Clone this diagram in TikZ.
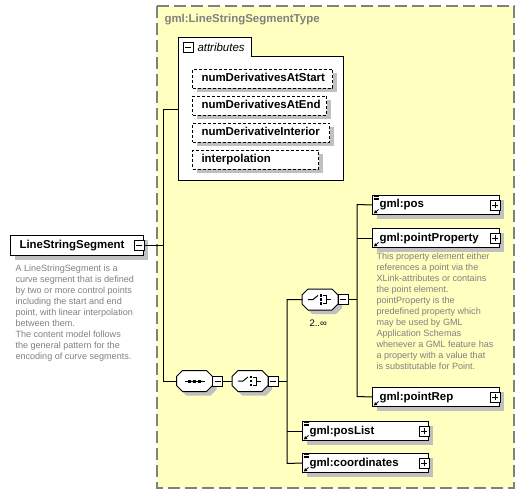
\documentclass[tikz,border=0pt]{standalone}
\usepackage{fontspec}
\setmainfont{Liberation Sans}
\usetikzlibrary{shadows,arrows.meta}
\definecolor{schemabg}{RGB}{255,255,192}
\definecolor{shadowgray}{RGB}{192,192,192}
\definecolor{notegray}{RGB}{128,128,128}

\begin{document}
\begin{tikzpicture}
                        [
                            x=1bp, y=-1bp, line width=1bp,
                            box shadow/.style={general shadow={shadow xshift=4bp, shadow yshift=-4bp, fill=shadowgray}},
                            elem style/.style={draw, fill=white, box shadow, anchor=north west, minimum height=19bp,
                                inner xsep=7bp, inner ysep=0pt, align=left, text height=8.5bp, text depth=2.5bp,
                                font=\fontsize{11.5}{13}\selectfont\bfseries},
                            attr style/.style={elem style, dash pattern=on 3bp off 2bp, inner xsep=9bp},
                            comp style/.style={minimum width=35bp, minimum height=20bp, inner sep=0pt},
                            minus style/.style={draw, fill=white, minimum size=10bp, inner sep=0pt,
                                path picture={\draw ([xshift=2bp]path picture bounding box.west) -- ([xshift=-2bp]path picture bounding box.east);}},
                            plus style/.style={draw, fill=white, minimum size=10bp, inner sep=0pt,
                                path picture={\draw ([xshift=2bp]path picture bounding box.west) -- ([xshift=-2bp]path picture bounding box.east);
                                              \draw ([yshift=2bp]path picture bounding box.south) -- ([yshift=-2bp]path picture bounding box.north);}},
                            note style/.style={anchor=north west, inner sep=0pt, align=left, text=notegray,
                                font=\fontsize{9.1}{11}\selectfont},
                            ref arrow/.style={-{Triangle[length=3bp,width=3.5bp]}, line width=0.8bp}
                        ]
                        \useasboundingbox (0,0) rectangle (525,495);
                        % complex type frame
                        \draw[notegray, fill=schemabg, line width=1.3bp, dash pattern=on 12bp off 5bp] (157,6) rectangle (514,488);
                        \node[anchor=base west, inner sep=0pt, text=notegray, font=\fontsize{11.5}{13}\selectfont\bfseries] (typename) at (164,23) {gml:LineStringSegmentType};
                        % attribute group
                        \draw[fill=white] (178,181) -- (178,38) -- (251,38) -- (251,57) -- (343,57) -- (343,181) -- cycle;
                        \node[minus style] (attr-exp) at (188,47.5) {};
                        \node[anchor=west, inner sep=0pt, font=\fontsize{11.5}{13}\selectfont\itshape] (attr-label) at (197,47.5) {attributes};
                        \node[attr style, minimum width=140bp, text width=122bp] (att-start) at (192,69) {numDerivativesAtStart};
                        \node[attr style, minimum width=134bp, text width=116bp] (att-end) at (192,96) {numDerivativesAtEnd};
                        \node[attr style, minimum width=137bp, text width=119bp] (att-int) at (192,123) {numDerivativeInterior};
                        \node[attr style, minimum width=126bp, text width=108bp] (att-interp) at (192,150) {interpolation};
                        % the element
                        \node[elem style, minimum width=133bp, minimum height=20bp, inner xsep=9bp, text width=115bp] (seg) at (10,235) {LineStringSegment};
                        \node[minus style] (seg-exp) at ([xshift=-5bp]seg.east) {};
                        \node[note style] (seg-note) at (15,264.4) {A LineStringSegment is a\\curve segment that is defined\\by two or more control points\\including the start and end\\point, with linear interpolation\\between them.\\The content model follows\\the general pattern for the\\encoding of curve segments.};
                        % compositors
                        \node[comp style] (seq) at (194.5,381) {};
                        \node[comp style] (choice) at (250,381) {};
                        \node[comp style] (pchoice) at (320,299.5) {};
                        \foreach \c in {seq,choice,pchoice}
                            \draw[fill=white, box shadow] ([xshift=6bp]\c.north west) -- ([xshift=-6bp]\c.north east) -- ([yshift=-6bp]\c.north east)
                                -- ([yshift=6bp]\c.south east) -- ([xshift=-6bp]\c.south east) -- ([xshift=6bp]\c.south west)
                                -- ([yshift=6bp]\c.south west) -- ([yshift=-6bp]\c.north west) -- cycle;
                        \node[minus style] (seq-exp) at ([xshift=5bp]seq.east) {};
                        \node[minus style] (choice-exp) at ([xshift=5bp]choice.east) {};
                        \node[minus style] (pchoice-exp) at ([xshift=5bp]pchoice.east) {};
                        \node[anchor=west, inner sep=0pt, font=\fontsize{9.5}{11}\selectfont] (pchoice-occ) at (309,323) {2..∞};
                        % sequence icon
                        \draw ([xshift=-10bp]seq.center) -- ([xshift=10bp]seq.center);
                        \foreach \dx in {-5,0,5} \fill ([xshift=\dx bp]seq.center) +(-1.5,-1.5) rectangle +(1.5,1.5);
                        % choice icons
                        \foreach \c in {choice,pchoice} {
                            \draw ([xshift=-12bp]\c.center) -- ([xshift=-7bp]\c.center) -- ([shift={(-2bp,4bp)}]\c.center);
                            \foreach \dy in {-4,0,4} \fill ([shift={(1bp,\dy bp)}]\c.center) +(-1.3,-1.3) rectangle +(1.3,1.3);
                            \draw ([shift={(3bp,4bp)}]\c.center) -- ([shift={(6bp,4bp)}]\c.center) -- ([shift={(6bp,-4bp)}]\c.center) -- ([shift={(3bp,-4bp)}]\c.center);
                            \draw ([xshift=6bp]\c.center) -- ([xshift=11bp]\c.center);
                        }
                        % child elements
                        \node[elem style, minimum width=127bp, text width=113bp] (pos) at (372,195) {gml:pos};
                        \node[plus style] (pos-exp) at ([xshift=-5bp]pos.east) {};
                        \node[elem style, minimum width=127bp, text width=113bp] (pointprop) at (372,228) {gml:pointProperty};
                        \node[plus style] (pointprop-exp) at ([xshift=-5bp]pointprop.east) {};
                        \node[note style] (pointprop-note) at (376,252.9) {This property element either\\references a point via the\\XLink-attributes or contains\\the point element.\\pointProperty is the\\predefined property which\\may be used by GML\\Application Schemas\\whenever a GML feature has\\a property with a value that\\is substitutable for Point.};
                        \node[elem style, minimum width=127bp, text width=113bp] (pointrep) at (372,387) {gml:pointRep};
                        \node[plus style] (pointrep-exp) at ([xshift=-5bp]pointrep.east) {};
                        \node[elem style, minimum width=126bp, text width=112bp] (poslist) at (302,421) {gml:posList};
                        \node[plus style] (poslist-exp) at ([xshift=-5bp]poslist.east) {};
                        \node[elem style, minimum width=126bp, text width=112bp] (coords) at (302,453) {gml:coordinates};
                        \node[plus style] (coords-exp) at ([xshift=-5bp]coords.east) {};
                        % element icons
                        \foreach \n in {pos,poslist,coords} \foreach \dy in {1.5,3,4.5} \draw[line width=0.6bp] ([shift={(1.5bp,-\dy bp)}]\n.north west) -- ++(5bp,0bp);
                        \foreach \n in {pos,pointprop,pointrep,poslist,coords} \draw[ref arrow] ([shift={(6.5bp,5.5bp)}]\n.south west) -- ([shift={(2bp,1.5bp)}]\n.south west);
                        % connectors
                        \coordinate (attr-in) at (178,110);
                        \coordinate (trunk-top) at (163,110);
                        \coordinate (trunk-bot) at (163,381);
                        \draw (seg-exp.east) -- (seg-exp.east -| trunk-top);
                        \draw (attr-in) -- (trunk-top) -- (trunk-bot) -- (seq.west);
                        \draw (seq-exp.east) -- (choice.west);
                        \coordinate (branch-top) at (287,299.5);
                        \coordinate (branch-bot) at (287,463.5);
                        \draw (choice-exp.east) -- (choice-exp.east -| branch-top);
                        \draw (pchoice.west) -- (branch-top) -- (branch-bot) -- (coords.west);
                        \draw (poslist.west) -- (poslist.west -| branch-top);
                        \coordinate (pt-top) at (357,204.5);
                        \coordinate (pt-bot) at (357,396.5);
                        \draw (pchoice-exp.east) -- (pchoice-exp.east -| pt-top);
                        \draw (pos.west) -- (pt-top) -- (pt-bot) -- (pointrep.west);
                        \draw (pointprop.west) -- (pointprop.west -| pt-top);
                        \end{tikzpicture}
\end{document}
